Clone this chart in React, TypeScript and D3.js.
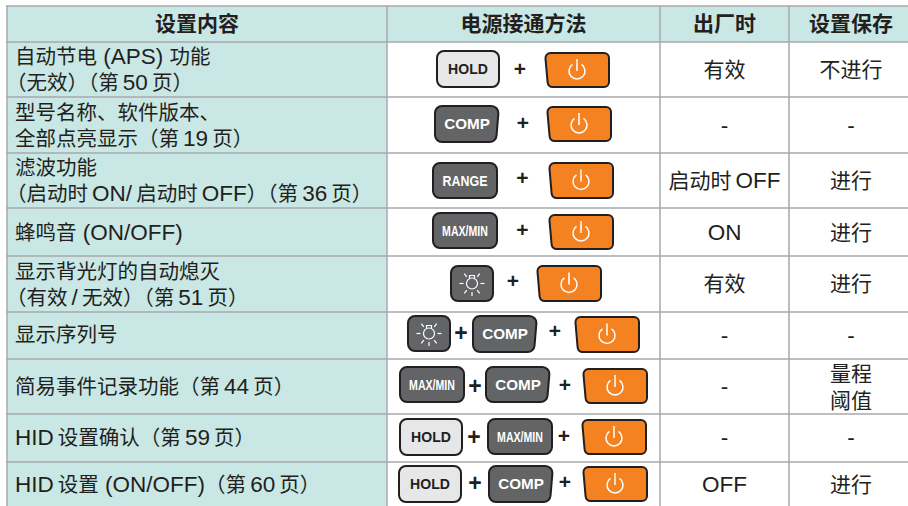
import React from 'react';
import * as d3 from 'd3';

// table content
const headers = ['设置内容', '电源接通方法', '出厂时', '设置保存'];
const settingLabels = [
  ['自动节电 (APS) 功能', '（无效）（第\u200950\u2009页）'],
  ['型号名称、软件版本、', '全部点亮显示（第\u200919\u2009页）'],
  ['滤波功能', '（启动时\u2009ON/\u2009启动时\u2009OFF）（第\u200936\u2009页）'],
  ['蜂鸣音 (ON/OFF)'],
  ['显示背光灯的自动熄灭', '（有效\u2009/\u2009无效）（第\u200951\u2009页）'],
  ['显示序列号'],
  ['简易事件记录功能（第\u200944\u2009页）'],
  ['HID\u2009设置确认（第\u200959\u2009页）'],
  ['HID\u2009设置 (ON/OFF)（第\u200960\u2009页）'],
];
const powerKeys = [
  ['HOLD', 'POWER'],
  ['COMP', 'POWER'],
  ['RANGE', 'POWER'],
  ['MAX/MIN', 'POWER'],
  ['LIGHT', 'POWER'],
  ['LIGHT', 'COMP', 'POWER'],
  ['MAX/MIN', 'COMP', 'POWER'],
  ['HOLD', 'MAX/MIN', 'POWER'],
  ['HOLD', 'COMP', 'POWER'],
];
const factoryValues = [['有效'], ['-'], ['启动时\u2009OFF'], ['ON'], ['有效'], ['-'], ['-'], ['-'], ['OFF']];
const saveValues = [['不进行'], ['-'], ['进行'], ['进行'], ['进行'], ['-'], ['量程', '阈值'], ['-'], ['进行']];

// layout, kept apart from the content
const colEdges = [7, 387, 660, 789, 909];
const rowEdges = [6, 42, 97, 153, 208, 256, 312, 359, 414, 462, 507];
const labelCenters = [[57, 83], [113, 139], [168, 194], [233], [272, 298], [335], [387], [438], [485]];
const valueCenters = [70, 126, 181, 233, 284, 336, 387, 438, 485];
// [left, top, bottom] per key and [x, y] per plus sign, row by row
const keyBoxes = [
  [[437, 51, 87], [545, 53, 87]],
  [[435, 106, 142], [547, 107, 141]],
  [[433, 163, 198], [549, 163, 198]],
  [[433, 213, 248], [549, 215, 249]],
  [[451, 266, 301], [537, 266, 301]],
  [[408, 316, 351], [473, 316, 352], [575, 317, 352]],
  [[400, 367, 402], [486, 367, 402], [583, 369, 403]],
  [[400, 419, 455], [488, 419, 454], [582, 420, 454]],
  [[399, 466, 502], [489, 466, 502], [583, 467, 501]],
];
const plusSigns = [
  [[520, 69]],
  [[523, 123]],
  [[522.5, 178]],
  [[522.5, 230]],
  [[513, 281]],
  [[461, 333], [555, 331]],
  [[475, 386], [565, 385]],
  [[474, 437], [564, 436]],
  [[475, 483], [565, 482]],
];
const keyWidths: Record<string, number> = { HOLD: 62, COMP: 64, RANGE: 64, 'MAX/MIN': 64, LIGHT: 42, POWER: 64 };
// the key captions are condensed in the source, so squeeze them horizontally
const keyTextScale: Record<string, number> = { HOLD: 0.97, COMP: 1.05, RANGE: 0.86, 'MAX/MIN': 0.73 };

const INK = '#231f20';
const RULE = '#a7a9ac';
const FONT = '"Liberation Sans", "Noto Sans CJK SC", sans-serif';

const roundedPoly = (pts: number[][], r: number) => {
  const p = d3.path();
  const n = pts.length;
  p.moveTo((pts[n - 1][0] + pts[0][0]) / 2, (pts[n - 1][1] + pts[0][1]) / 2);
  pts.forEach((pt, i) => {
    const next = pts[(i + 1) % n];
    p.arcTo(pt[0], pt[1], next[0], next[1], r);
  });
  p.closePath();
  return p.toString();
};

// Latin runs sit a little larger than the Chinese text in the source
const mixedRuns = (s: string) =>
  s.split(/([\x20-\x7e]+)/).filter(Boolean).map((run, i) => (
    <tspan key={i} fontSize={/[\x20-\x7e]/.test(run) ? 22.5 : undefined}>
      {run}
    </tspan>
  ));

const PowerGlyph = ({ cx, cy }: { cx: number; cy: number }) => {
  const arc = d3.arc()({ innerRadius: 8, outerRadius: 8, startAngle: 0.6, endAngle: 2 * Math.PI - 0.6 }) as string;
  return (
    <g transform={`translate(${cx},${cy})`} fill="none" stroke="#fff" strokeWidth={1.5}>
      <path d={arc} />
      <line x1={0} x2={0} y1={-12} y2={0} />
    </g>
  );
};

const LightGlyph = ({ cx, cy }: { cx: number; cy: number }) => {
  const angles = [-90, -38, 38, 90, 142, 218, 180].map((d) => (d * Math.PI) / 180);
  return (
    <g transform={`translate(${cx},${cy})`} fill="none" stroke="#fff" strokeWidth={1.2}>
      <circle r={5.5} />
      <path d="M-2.5,-5 V-8 H2.5 V-5" />
      {angles.map((a, i) => (
        <line
          key={i}
          x1={Math.sin(a) * 8.5}
          y1={-Math.cos(a) * 8.5}
          x2={Math.sin(a) * 12.5}
          y2={-Math.cos(a) * 12.5}
        />
      ))}
    </g>
  );
};

const Key = ({ name, box }: { name: string; box: number[] }) => {
  const [x, top, bottom] = box;
  const w = keyWidths[name];
  const right = x + w;
  const cx = x + w / 2;
  const cy = (top + bottom) / 2;
  if (name === 'POWER') {
    const d = roundedPoly([[x, top], [right, top], [right, bottom], [x + 3, bottom]], 5);
    return (
      <g>
        <path d={d} fill="#f58220" stroke={INK} strokeWidth={2} />
        <PowerGlyph cx={cx} cy={cy + 1} />
      </g>
    );
  }
  const slanted = name === 'COMP';
  const corners = [[x, top], [right, top], [slanted ? right - 3 : right, bottom], [x, bottom]];
  const light = name === 'HOLD';
  return (
    <g>
      <path d={roundedPoly(corners, 7)} fill={light ? '#e6e7e8' : '#636466'} stroke={INK} strokeWidth={2} />
      {name === 'LIGHT' ? (
        <LightGlyph cx={cx} cy={cy} />
      ) : (
        <text
          transform={`translate(${cx},${cy + 5}) scale(${keyTextScale[name]},1)`}
          textAnchor="middle"
          fontFamily={FONT}
          fontWeight="bold"
          fontSize={14.5}
          fill={light ? INK : '#fff'}
        >
          {name}
        </text>
      )}
    </g>
  );
};

const ValueCell = ({ lines, cx, cy }: { lines: string[]; cx: number; cy: number }) => (
  <g fontFamily={FONT} fontSize={21} fill={INK} textAnchor="middle">
    {lines.map((l, i) => (
      <text key={l} x={cx} y={cy + 7 + (i - (lines.length - 1) / 2) * 27}>
        {mixedRuns(l)}
      </text>
    ))}
  </g>
);

export default function App() {
  const rows = d3.pairs(rowEdges);
  const cols = d3.pairs(colEdges);
  const colMid = cols.map(([a, b]) => (a + b) / 2);
  return (
    <svg width={908} height={506} style={{ position: 'absolute', left: 0, top: 0, background: '#fff' }}>
      {/* tinted header and first column */}
      <rect x={colEdges[0]} y={rowEdges[0]} width={colEdges[4] - colEdges[0]} height={rows[0][1] - rows[0][0]} fill="#c9e7e4" />
      <rect x={colEdges[0]} y={rowEdges[1]} width={colEdges[1] - colEdges[0]} height={rowEdges[10] - rowEdges[1]} fill="#c9e7e4" />

      {headers.map((h, i) => (
        <text key={h} x={colMid[i] + (i === 3 ? 2 : 0)} y={31} textAnchor="middle" fontFamily={FONT} fontSize={21} fontWeight="bold" fill={INK}>
          {h}
        </text>
      ))}

      {settingLabels.map((lines, r) =>
        lines.map((l, i) => (
          <text
            key={l}
            x={l.startsWith('（') ? 6 : 15}
            y={labelCenters[r][i] + 7}
            fontFamily={FONT}
            fontSize={20.5}
            fill={INK}
          >
            {mixedRuns(l)}
          </text>
        )),
      )}

      {powerKeys.map((keys, r) => (
        <g key={r}>
          {keys.map((k, i) => (
            <Key key={k} name={k} box={keyBoxes[r][i]} />
          ))}
          {plusSigns[r].map(([x, y], i) => (
            <text
              key={x}
              x={x}
              y={y + (keys.length === 3 && i === 0 ? 8 : 7)}
              textAnchor="middle"
              fontFamily={FONT}
              fontWeight="bold"
              fontSize={keys.length === 3 && i === 0 ? 23 : 21}
              fill={INK}
            >
              +
            </text>
          ))}
        </g>
      ))}

      {factoryValues.map((v, r) => (
        <ValueCell key={r} lines={v} cx={colMid[2]} cy={valueCenters[r]} />
      ))}
      {saveValues.map((v, r) => (
        <ValueCell key={r} lines={v} cx={colMid[3] + 2} cy={valueCenters[r]} />
      ))}

      {/* rules */}
      {rowEdges.slice(0, 10).map((y) => (
        <line key={y} x1={colEdges[0] - 1} x2={908} y1={y} y2={y} stroke={RULE} strokeWidth={1.5} />
      ))}
      {colEdges.slice(0, 4).map((x) => (
        <line key={x} x1={x} x2={x} y1={rowEdges[0]} y2={506} stroke={RULE} strokeWidth={1.5} />
      ))}
    </svg>
  );
}
